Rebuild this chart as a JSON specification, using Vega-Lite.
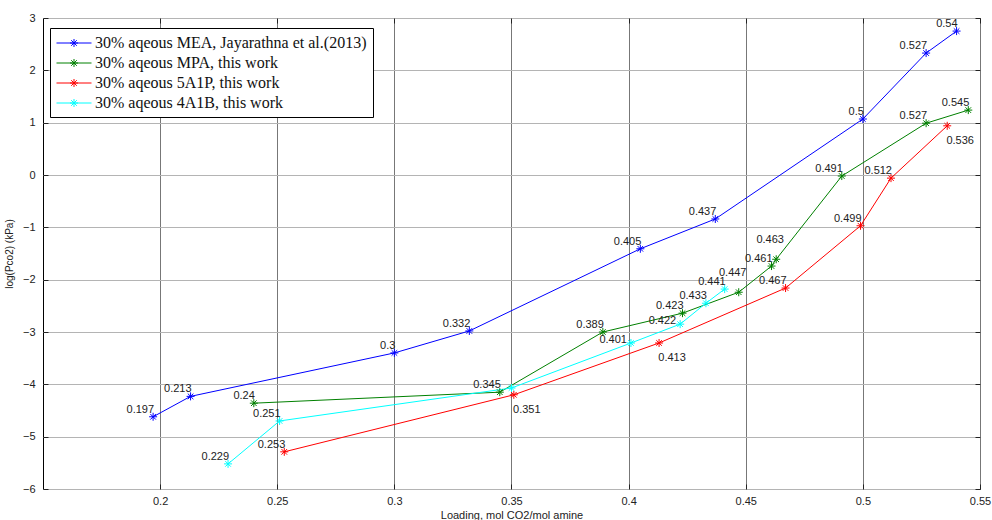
{
  "$schema": "https://vega.github.io/schema/vega-lite/v6.json",
  "width": 937,
  "height": 471,
  "autosize": {"type": "none"},
  "padding": {"left": 43, "top": 18, "right": 12, "bottom": 31},
  "background": "white",
  "config": {
    "view": {"stroke": "black", "strokeWidth": 1},
    "font": "Liberation Sans"
  },
  "data": {
    "values": [
      {"series": "30% aqeous MEA, Jayarathna et al.(2013)", "x": 0.197, "y": -4.62, "label": "0.197"},
      {"series": "30% aqeous MEA, Jayarathna et al.(2013)", "x": 0.213, "y": -4.23, "label": "0.213"},
      {"series": "30% aqeous MEA, Jayarathna et al.(2013)", "x": 0.3, "y": -3.40, "label": "0.3"},
      {"series": "30% aqeous MEA, Jayarathna et al.(2013)", "x": 0.332, "y": -2.98, "label": "0.332"},
      {"series": "30% aqeous MEA, Jayarathna et al.(2013)", "x": 0.405, "y": -1.41, "label": "0.405"},
      {"series": "30% aqeous MEA, Jayarathna et al.(2013)", "x": 0.437, "y": -0.84, "label": "0.437"},
      {"series": "30% aqeous MEA, Jayarathna et al.(2013)", "x": 0.5, "y": 1.07, "label": "0.5"},
      {"series": "30% aqeous MEA, Jayarathna et al.(2013)", "x": 0.527, "y": 2.33, "label": "0.527"},
      {"series": "30% aqeous MEA, Jayarathna et al.(2013)", "x": 0.54, "y": 2.75, "label": "0.54"},
      {"series": "30% aqeous MPA, this work", "x": 0.24, "y": -4.36, "label": "0.24"},
      {"series": "30% aqeous MPA, this work", "x": 0.345, "y": -4.15, "label": "0.345"},
      {"series": "30% aqeous MPA, this work", "x": 0.389, "y": -3.0, "label": "0.389"},
      {"series": "30% aqeous MPA, this work", "x": 0.423, "y": -2.64, "label": "0.423"},
      {"series": "30% aqeous MPA, this work", "x": 0.447, "y": -2.24, "label": "0.447"},
      {"series": "30% aqeous MPA, this work", "x": 0.461, "y": -1.74, "label": "0.461"},
      {"series": "30% aqeous MPA, this work", "x": 0.463, "y": -1.61, "label": "0.463"},
      {"series": "30% aqeous MPA, this work", "x": 0.491, "y": -0.02, "label": "0.491"},
      {"series": "30% aqeous MPA, this work", "x": 0.527, "y": 0.99, "label": "0.527"},
      {"series": "30% aqeous MPA, this work", "x": 0.545, "y": 1.24, "label": "0.545"},
      {"series": "30% aqeous 5A1P, this work", "x": 0.253, "y": -5.29, "label": "0.253"},
      {"series": "30% aqeous 5A1P, this work", "x": 0.351, "y": -4.20, "label": "0.351"},
      {"series": "30% aqeous 5A1P, this work", "x": 0.413, "y": -3.21, "label": "0.413"},
      {"series": "30% aqeous 5A1P, this work", "x": 0.467, "y": -2.16, "label": "0.467"},
      {"series": "30% aqeous 5A1P, this work", "x": 0.499, "y": -0.97, "label": "0.499"},
      {"series": "30% aqeous 5A1P, this work", "x": 0.512, "y": -0.06, "label": "0.512"},
      {"series": "30% aqeous 5A1P, this work", "x": 0.536, "y": 0.94, "label": "0.536"},
      {"series": "30% aqeous 4A1B, this work", "x": 0.229, "y": -5.52, "label": "0.229"},
      {"series": "30% aqeous 4A1B, this work", "x": 0.251, "y": -4.70, "label": "0.251"},
      {"series": "30% aqeous 4A1B, this work", "x": 0.35, "y": -4.07, "label": ""},
      {"series": "30% aqeous 4A1B, this work", "x": 0.401, "y": -3.21, "label": "0.401"},
      {"series": "30% aqeous 4A1B, this work", "x": 0.422, "y": -2.85, "label": "0.422"},
      {"series": "30% aqeous 4A1B, this work", "x": 0.433, "y": -2.45, "label": "0.433"},
      {"series": "30% aqeous 4A1B, this work", "x": 0.441, "y": -2.18, "label": "0.441"}
    ]
  },
  "resolve": {"axis": {"x": "independent", "y": "independent"}, "legend": {"color": "independent"}},
  "layer": [
    {
      "mark": {"type": "line", "strokeWidth": 1},
      "encoding": {
        "x": {
          "field": "x", "type": "quantitative",
          "scale": {"domain": [0.15, 0.55], "nice": false, "zero": false},
          "axis": {
            "orient": "bottom", "values": [0.2, 0.25, 0.3, 0.35, 0.4, 0.45, 0.5, 0.55], "format": ".2~f",
            "title": "Loading, mol CO2/mol amine", "titleFontSize": 11, "titleFontWeight": "normal", "titleColor": "#222", "titlePadding": 3,
            "labelFontSize": 11, "labelColor": "#222", "labelPadding": 11, "labelFlush": false,
            "tickSize": -5, "tickColor": "#222", "domain": false,
            "grid": true, "gridColor": "#777", "gridWidth": 1
          }
        },
        "y": {
          "field": "y", "type": "quantitative",
          "scale": {"domain": [-6, 3], "nice": false, "zero": false},
          "axis": {
            "orient": "left", "values": [-6, -5, -4, -3, -2, -1, 0, 1, 2, 3],
            "title": "log(Pco2) (kPa)", "titleFontSize": 10, "titleFontWeight": "normal", "titleColor": "#222", "titlePadding": 8,
            "labelFontSize": 11, "labelColor": "#222", "labelPadding": 13, "labelFlush": false,
            "tickSize": -5, "tickColor": "#222", "domain": false,
            "grid": true, "gridColor": "#b4b4b4", "gridWidth": 1.2
          }
        },
        "color": {
          "field": "series", "type": "nominal",
          "scale": {
            "domain": ["30% aqeous MEA, Jayarathna et al.(2013)", "30% aqeous MPA, this work", "30% aqeous 5A1P, this work", "30% aqeous 4A1B, this work"],
            "range": ["#0000ff", "#008000", "#ff0000", "#00ffff"]
          },
          "legend": {
            "orient": "none", "legendX": 7, "legendY": 10, "title": null,
            "fillColor": "white", "strokeColor": "black", "padding": 6,
            "labelFont": "Liberation Serif", "labelFontSize": 16, "labelColor": "#111", "labelLimit": 400,
            "symbolType": "M-2.06,0L2.06,0M-0.47,0L0.47,0M0,-0.47L0,0.47M-0.33,-0.33L0.33,0.33M-0.33,0.33L0.33,-0.33",
            "symbolSize": 289, "symbolStrokeWidth": 1, "symbolFillColor": "transparent",
            "symbolOffset": 9, "labelOffset": 12, "rowPadding": 3
          }
        }
      }
    },
    {
      "mark": {"type": "point", "shape": "M-1,0L1,0M0,-1L0,1M-0.7,-0.7L0.7,0.7M-0.7,0.7L0.7,-0.7", "filled": false, "size": 64, "strokeWidth": 1, "opacity": 1},
      "encoding": {
        "x": {
          "field": "x", "type": "quantitative",
          "axis": {"orient": "top", "values": [0.2, 0.25, 0.3, 0.35, 0.4, 0.45, 0.5, 0.55], "labels": false, "title": null, "tickSize": -5, "tickColor": "#222", "domain": false, "grid": false}
        },
        "y": {
          "field": "y", "type": "quantitative",
          "axis": {"orient": "right", "values": [-6, -5, -4, -3, -2, -1, 0, 1, 2, 3], "labels": false, "title": null, "tickSize": -5, "tickColor": "#222", "domain": false, "grid": false}
        },
        "color": {"field": "series", "type": "nominal", "legend": null}
      }
    },
    {
      "transform": [{"filter": "datum.label != '' && indexof(['0.351','0.413','0.536','0.401','0.422','0.447','0.463'], datum.label) < 0"}],
      "mark": {"type": "text", "align": "right", "baseline": "middle", "dx": 1, "dy": -7, "fontSize": 11, "color": "#222"},
      "encoding": {
        "x": {"field": "x", "type": "quantitative", "axis": null},
        "y": {"field": "y", "type": "quantitative", "axis": null},
        "text": {"field": "label"}
      }
    },
    {
      "transform": [{"filter": "indexof(['0.351','0.413','0.536'], datum.label) >= 0"}],
      "mark": {"type": "text", "align": "center", "baseline": "middle", "dx": 13, "dy": 15, "fontSize": 11, "color": "#222"},
      "encoding": {
        "x": {"field": "x", "type": "quantitative", "axis": null},
        "y": {"field": "y", "type": "quantitative", "axis": null},
        "text": {"field": "label"}
      }
    },
    {
      "transform": [{"filter": "indexof(['0.401','0.422'], datum.label) >= 0"}],
      "mark": {"type": "text", "align": "right", "baseline": "middle", "dx": -4, "dy": -3, "fontSize": 11, "color": "#222"},
      "encoding": {
        "x": {"field": "x", "type": "quantitative", "axis": null},
        "y": {"field": "y", "type": "quantitative", "axis": null},
        "text": {"field": "label"}
      }
    },
    {
      "transform": [{"filter": "indexof(['0.447','0.463'], datum.label) >= 0"}],
      "mark": {"type": "text", "align": "center", "baseline": "middle", "dx": -6, "dy": -19, "fontSize": 11, "color": "#222"},
      "encoding": {
        "x": {"field": "x", "type": "quantitative", "axis": null},
        "y": {"field": "y", "type": "quantitative", "axis": null},
        "text": {"field": "label"}
      }
    }
  ]
}
